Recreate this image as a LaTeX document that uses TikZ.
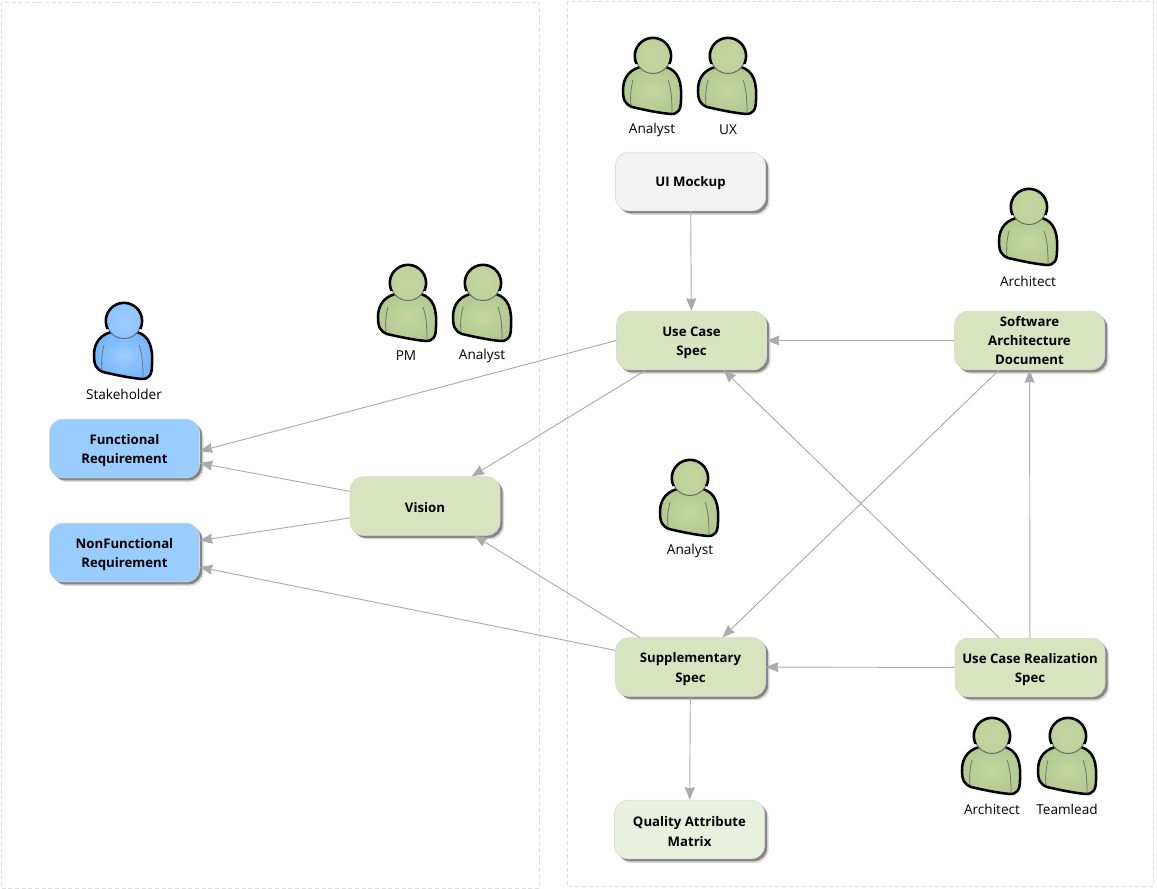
\documentclass[tikz,border=0pt]{standalone}
\usepackage{fontspec}
\setmainfont{Open Sans}
\usetikzlibrary{arrows.meta}
\usetikzlibrary{shadows}

\definecolor{panelline}{HTML}{DDDDDD}
\definecolor{linkgray}{HTML}{ABABAB}
\definecolor{greenbox}{HTML}{D8E3BF}
\definecolor{palebox}{HTML}{E9F0DE}
\definecolor{greybox}{HTML}{F2F2F2}
\definecolor{bluebox}{HTML}{99CCFF}
\definecolor{greenin}{HTML}{C6D6A2}
\definecolor{greenout}{HTML}{B3C990}
\definecolor{bluein}{HTML}{9DCCFF}
\definecolor{blueout}{HTML}{74B6FC}

% pushes the text of a box down a little
\newcommand{\lowertext}{\mbox{}\\[-4.3pt]}

\tikzset{
    person/.pic={
        \draw[line width=1.9pt, line join=round, shade, inner color=#1in, outer color=#1out]
            (-13,11) .. controls (-27,15) and (-30,26) .. (-30,34)
            .. controls (-30,44) and (-28,48) .. (-21,51)
            .. controls (-8,54) and (6,57) .. (18,58)
            .. controls (25,58) and (28,54) .. (28,44)
            .. controls (29,27) and (26,15) .. (13,11) -- cycle;
        \draw[black!55, line width=.6pt] (-20,24) .. controls (-22,32) and (-23,40) .. (-22,49);
        \draw[black!55, line width=.6pt] (15,24) .. controls (18,32) and (19,42) .. (19,56);
        \shade[inner color=#1in, outer color=#1out!40!#1in] (0,0) circle (17.5);
        \draw[black!60, line width=.7pt] (0,0) circle (17.5);
        \draw[line width=1.9pt] (-16.4,8) arc (154:386:18.2);
    }
}

\begin{document}
\begin{tikzpicture}[
    x=.75pt, y=-.75pt,
    >={Stealth[length=9.5pt, width=7.5pt, inset=.8pt]},
    panel/.style={draw=panelline, densely dashed, line width=.5pt},
    link/.style={->, draw=linkgray, line width=.7pt},
    who/.style={font=\fontsize{10.2}{12}\selectfont},
    doc/.style={rectangle, draw=white!85!black, rounded corners=10pt, align=center,
        minimum width=112.5pt, minimum height=44pt, inner sep=0pt,
        font=\fontsize{9.9}{14.6}\selectfont\bfseries,
        drop shadow={shadow xshift=3pt, shadow yshift=-3pt, fill=black, opacity=.15},
        drop shadow={shadow xshift=1.9pt, shadow yshift=-1.9pt, fill=black, opacity=.38}},
    greendoc/.style={doc, fill=greenbox},
    paledoc/.style={doc, fill=palebox},
    greydoc/.style={doc, fill=greybox},
    bluedoc/.style={doc, fill=bluebox}
]
\useasboundingbox (0,0) rectangle (1157,889);

% Panels
\draw[panel] (1,2) rectangle (539,888);
\draw[panel] (567,1) rectangle (1153,886);

% Nodes
\node[greydoc] (ui) at (690.5,181.5) {\lowertext UI Mockup};
\node[greendoc] (uc) at (691.5,340.5) {\lowertext Use Case\\Spec};
\node[greendoc] (sad) at (1029.5,340.5) {Software\\Architecture\\Document};
\node[bluedoc] (func) at (124.5,448.5) {\lowertext Functional\\Requirement};
\node[bluedoc] (nfunc) at (124.5,552.5) {\lowertext NonFunctional\\Requirement};
\node[greendoc] (vision) at (425,506) {\lowertext Vision};
\node[greendoc] (supp) at (690.5,667) {\lowertext Supplementary\\Spec};
\node[greendoc] (ucr) at (1030,667.5) {\lowertext Use Case Realization\\Spec};
\node[paledoc] (qam) at (689.5,829.5) {\lowertext Quality Attribute\\Matrix};

% People
\pic at (653,56) {person=green};
\pic at (728,56) {person=green};
\pic at (1029,207) {person=green};
\pic at (408,283) {person=green};
\pic at (483,283) {person=green};
\pic at (124,321) {person=blue};
\pic at (690,478) {person=green};
\pic at (992,736) {person=green};
\pic at (1068,736) {person=green};

\node[who] (w1) at (652,130) {Analyst};
\node[who] (w2) at (728,130) {UX};
\node[who] (w3) at (1028,281) {Architect};
\node[who] (w4) at (406,356) {PM};
\node[who] (w5) at (482,356) {Analyst};
\node[who] (w6) at (124,394) {Stakeholder};
\node[who] (w7) at (690,551) {Analyst};
\node[who] (w8) at (992,809) {Architect};
\node[who] (w9) at (1067,809) {Teamlead};

% Edges
\draw[link] (ui) -- (uc);
\draw[link] (sad) -- (uc);
\draw[link] (uc.west) -- ([yshift=-2pt]func.east);
\draw[link] ([xshift=-34pt]uc.south) -- ([xshift=35pt]vision.north);
\draw[link] ([yshift=11pt]vision.west) -- ([yshift=-11pt]func.east);
\draw[link] ([yshift=-9pt]vision.west) -- ([yshift=9pt]nfunc.east);
\draw[link] ([xshift=-38pt]supp.north) -- ([xshift=37pt]vision.south);
\draw[link] ([yshift=12.5pt]supp.west) -- ([yshift=-11pt]nfunc.east);
\draw[link] ([xshift=-23pt]sad.south) -- ([xshift=24pt]supp.north);
\draw[link] ([xshift=-23pt]ucr.north) -- ([xshift=24pt]uc.south);
\draw[link] (ucr) -- (sad);
\draw[link] (ucr) -- (supp);
\draw[link] (supp) -- (qam);

\end{tikzpicture}
\end{document}
